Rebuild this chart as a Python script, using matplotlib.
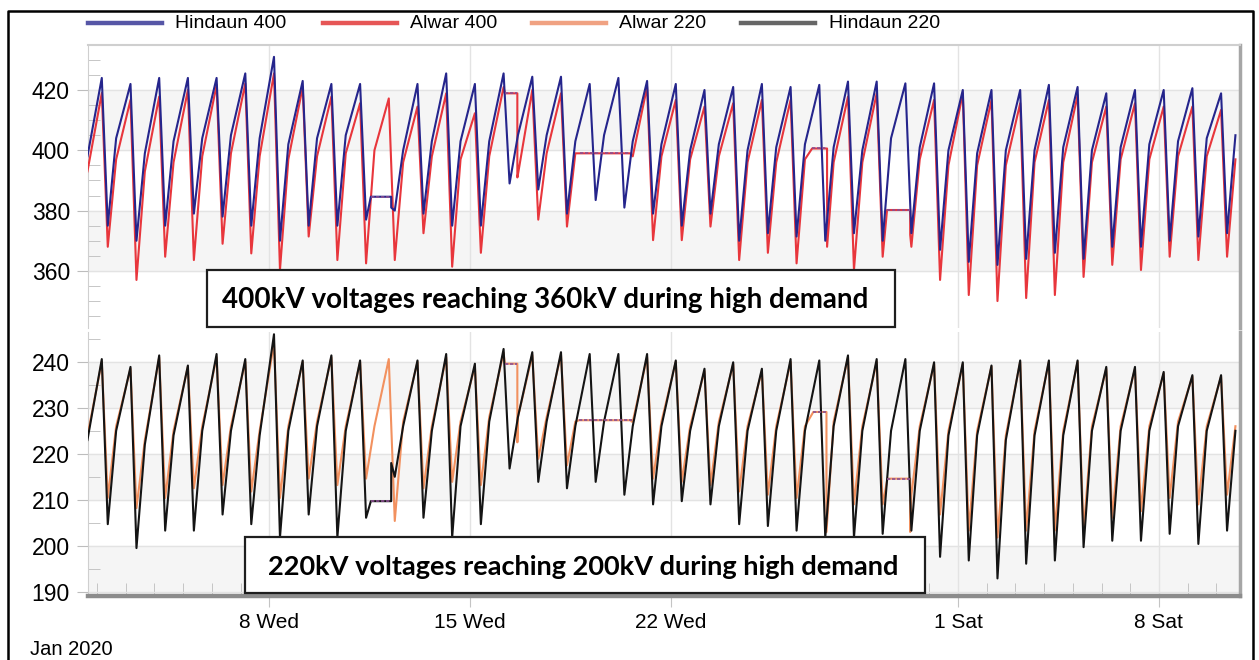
import numpy as np
import pandas as pd
import matplotlib
matplotlib.use("Agg")
import matplotlib.pyplot as plt
import matplotlib.dates as mdates
from matplotlib.lines import Line2D
from matplotlib.patches import Rectangle
from matplotlib.ticker import FixedLocator, MultipleLocator

nan = np.nan

# one value per day (Jan 1 .. Feb 10): morning peak, demand trough, afternoon level
days = pd.date_range("2020-01-01", "2020-02-10", freq="D")
peak_hour, trough_hour, mid_hour = 4, 9, 16

h400_peak = [nan, 424, 422, 424, 424, 424, 425.5, 431, 423, 422,
             422, nan, 422, 425.5, 422, 425.5, 424.4, 424.4, 422, 424,
             423, 422, 420, 421, 422, 421, 421.7, 422.8, 422.8, 422.2, 422.2,
             420, 420, 420, 421.7, 421, 418.9, 420, 420, 420.6, 418.9]
h400_trough = [nan, 375, 370, 375, 379, 378, 375, 370, 375, 375,
               377, 380, 379, 375, 375, 389, 387, 379, 383.5, 381,
               379, 375, 379, 370, 372.5, 371.4, 370, 372.5, 370, 372.5, 367,
               363, 362, 364, 366, 364, 368, 368, 370, 371.4, 372.5]
h400_mid = [398, 404, 399, 403, 404, 405, 404, 402, 404, 405,
            nan, 400, 403, 403, 403, 405, 405, 403, 405, 403,
            402, 400, 402, 400, 401, 402, 401, 400, 404, 401, 400,
            399, 400, 400, 401, 400, 401, 402, 403, 404, 405]

a400_peak = [nan, 419, 416.7, 417.8, 420, 421.7, 422.2, 425.5, 421, 417.8,
             415.6, 417.2, 414.5, 418.9, 412.3, 421, 420, 418.9, nan, nan,
             421.1, 416.7, 414.5, 415.6, 416.7, 416.7, nan, 417.8, 418.9, nan, 416.7,
             418.9, 416.7, 415.6, 416.7, 418.3, 414.5, 415.6, 414.5, 414.5, 413.4]
a400_trough = [nan, 368, 357, 364.7, 363.6, 369, 365.8, 360.3, 371.4, 363.6,
               362.5, 363.6, 372.5, 361.4, 366, nan, 377, 374.7, nan, nan,
               370.2, 370.2, 374.7, 363.6, 366, 362.5, nan, 360.3, 364.7, 368, 357,
               352, 350, 351, 352, 358, 362, 360.3, 364.7, 363.6, 364.7]
a400_mid = [393, 397, 393, 396, 398, 399, 398, 397, 398, 399,
            400, 396, 398, 397, 398, 392, 399, 399, nan, 398,
            398, 397, 398, 396, 396, 397, 396, 396, nan, 397, 395,
            395, 395, 396, 396, 396, 397, 397, 398, 398, 397]

h220_peak = [nan, 240.6, 238.9, 241.4, 239.2, 241.7, 240.6, 246, 240.3, 241.4,
             240.3, nan, 240.3, 241.7, 239.6, 242.8, 242.1, 242.1, 241.7, 241.7,
             241.7, 240.3, 238.5, 239.9, 238.5, 240.6, 240.3, 241.4, 240.6, 240.6, 239.9,
             239.9, 239.2, 240.3, 240.3, 240.3, 238.9, 238.9, 237.8, 237.1, 237.1]
h220_trough = [nan, 204.7, 199.5, 203.3, 203.3, 206.8, 204.7, 201.8, 206.8, 201.8,
               206.1, 215, 206.1, 201.8, 204.7, 216.8, 213.9, 212.5, 213.9, 211.1,
               209, 209.7, 209, 204.7, 204.3, 203.3, 201.8, 201.8, 202.6, 203.3, 197.6,
               196.8, 192.9, 196.1, 196.8, 199.7, 201.1, 201.1, 202.6, 200.4, 203.3]
h220_mid = [223, 225, 222, 224, 225, 225, 224, 225, 226, 225,
            nan, 226, 225, 226, 227, 228, 227, 226, 227, 226,
            226, 225, 226, 225, 225, 225, 226, 225, 225, 225, 224,
            224, 223, 224, 224, 225, 225, 225, 226, 225, 225]

a220_peak = [nan, 240, 238.5, 241, 239, 241, 240, 244, 240, 241,
             240, 240.6, 240, 241, 239, 242, 241.5, 241.5, nan, nan,
             241, 240, 238, 239.5, 238, 240, nan, 241, 240, nan, 239.5,
             239.5, 239, 240, 240, 240, 238.5, 238.5, 237.5, 236.8, 236.8]
a220_trough = [nan, 210.4, 208.2, 210.4, 212.5, 213.2, 211.8, 210.4, 214.6, 213.2,
               214.6, 205.4, 212.5, 213.9, 213.2, nan, 218.9, 217.5, nan, nan,
               214.6, 213.9, 213.2, 211.8, 211.1, 210.4, nan, 209, 209, 211, 206.8,
               203.3, 201.8, 203.3, 203.3, 203.3, 206.1, 207.5, 210.4, 209, 211.1]
a220_mid = [224, 226, 223, 225, 226, 226, 225, 226, 227, 226,
            226, 227, 226, 227, 228, 228, 228, 227, nan, 227,
            227, 226, 227, 226, 226, 226, 227, 226, nan, 226, 225,
            225, 224, 225, 225, 226, 226, 226, 227, 226, 226]

# missing data: held flat (start, end, held value, value when data comes back)
h400_gaps = [("2020-01-11 13:00", "2020-01-12 06:00", 384.6, 381)]
a400_gaps = [("2020-01-16 05:00", "2020-01-16 15:30", 418.9, 391),
             ("2020-01-18 20:00", "2020-01-20 14:00", 399, 399),
             ("2020-01-26 22:00", "2020-01-27 10:30", 400.6, 368),
             ("2020-01-29 12:40", "2020-01-30 08:00", 380.2, 372)]
h220_gaps = [("2020-01-11 13:00", "2020-01-12 06:00", 209.7, 218)]
a220_gaps = [("2020-01-16 05:00", "2020-01-16 15:30", 239.6, 222.5),
             ("2020-01-18 19:00", "2020-01-20 15:00", 227.3, 227),
             ("2020-01-26 23:00", "2020-01-27 10:00", 229.1, 203),
             ("2020-01-29 13:00", "2020-01-30 08:00", 214.6, 203)]

major_dates = pd.to_datetime(["2020-01-08", "2020-01-15", "2020-01-22", "2020-02-01", "2020-02-08"])

c_h400, c_a400, c_a220, c_h220 = "#25258c", "#e8363c", "#f2915f", "#141414"
c_gap = "#8a4f92"


def build(peak, trough, mid, gaps):
    t, v = [], []
    for d, p, tr, m in zip(days, peak, trough, mid):
        t += [d + pd.Timedelta(hours=peak_hour), d + pd.Timedelta(hours=trough_hour),
              d + pd.Timedelta(hours=mid_hour)]
        v += [p, tr, m]
    s = pd.Series(v, index=t)
    for start, end, flat, resume in gaps:
        start, end = pd.Timestamp(start), pd.Timestamp(end)
        s = s[(s.index < start) | (s.index > end)]
        s = pd.concat([s, pd.Series([flat, flat, resume],
                                    index=[start, end, end + pd.Timedelta(minutes=1)])])
    return s.sort_index().dropna()


W, H = 1259, 660
fig = plt.figure(figsize=(W / 100, H / 100), dpi=100)
ax1 = fig.add_axes([88 / W, 1 - 328 / H, 1152 / W, 283 / H])
ax2 = fig.add_axes([88 / W, 64 / H, 1152 / W, 264 / H], sharex=ax1)

# top: 400 kV
for name, pk, tr, md, gp, col in [("Alwar 400", a400_peak, a400_trough, a400_mid, a400_gaps, c_a400),
                                   ("Hindaun 400", h400_peak, h400_trough, h400_mid, h400_gaps, c_h400)]:
    s = build(pk, tr, md, gp)
    ax1.plot(s.index, s.values, color=col, lw=1.5, zorder=3)
    for start, end, flat, resume in gp:
        ax1.plot(pd.to_datetime([start, end]), [flat, flat], color=c_gap, lw=1.2, ls=(0, (2, 1)), zorder=4)

# bottom: 220 kV
for name, pk, tr, md, gp, col in [("Alwar 220", a220_peak, a220_trough, a220_mid, a220_gaps, c_a220),
                                   ("Hindaun 220", h220_peak, h220_trough, h220_mid, h220_gaps, c_h220)]:
    s = build(pk, tr, md, gp)
    ax2.plot(s.index, s.values, color=col, lw=1.5, zorder=3)
    for start, end, flat, resume in gp:
        ax2.plot(pd.to_datetime([start, end]), [flat, flat], color=c_gap, lw=1.2, ls=(0, (2, 1)), zorder=4)

ax1.set_ylim(341.06, 434.93)
ax2.set_ylim(189.08, 246.49)
ax1.set_xlim(pd.Timestamp("2020-01-01 16:28"), pd.Timestamp("2020-02-10 19:49"))

# alternating bands
for lo in (360, 400):
    ax1.axhspan(lo, lo + 20, color="#f5f5f5", zorder=0)
for lo in (190, 210, 230):
    ax2.axhspan(lo, lo + 10, color="#f5f5f5", zorder=0)

ax1.set_yticks([360, 380, 400, 420])
ax2.set_yticks([190, 200, 210, 220, 230, 240])
for ax in (ax1, ax2):
    ax.yaxis.set_minor_locator(MultipleLocator(5))
    ax.tick_params(axis="y", which="major", direction="out", length=8, color="#bdbdbd",
                   labelsize=16.5, pad=5)
    ax.tick_params(axis="y", which="minor", direction="in", length=8.5, color="#bdbdbd")
    ax.grid(True, which="major", color="#e3e3e3", lw=1, zorder=1)
    ax.set_axisbelow(True)
    for lab in ax.get_yticklabels():
        lab.set_family("Liberation Sans")
    ax.spines["left"].set_color("#cfcfcf")
    ax.spines["right"].set_color("#a6a6a6")
    ax.spines["right"].set_linewidth(2.5)

ax1.spines["top"].set_color("#cfcfcf")
ax1.spines["top"].set_linewidth(1.5)
ax1.spines["bottom"].set_visible(False)
ax2.spines["top"].set_visible(False)
ax2.spines["bottom"].set_color("#8c8c8c")
ax2.spines["bottom"].set_linewidth(3.2)

ax2.xaxis.set_major_locator(FixedLocator(mdates.date2num(major_dates)))
ax2.xaxis.set_minor_locator(FixedLocator(mdates.date2num(days[1:])))
ax2.xaxis.set_major_formatter(mdates.DateFormatter("%-d %a"))
ax2.tick_params(axis="x", which="major", direction="out", length=8, color="#c4c4c4",
                labelsize=15, pad=4)
ax2.tick_params(axis="x", which="minor", direction="in", length=9.5, color="#bdbdbd")
for lab in ax2.get_xticklabels():
    lab.set_family("Liberation Sans")
ax1.tick_params(axis="x", which="both", bottom=False, labelbottom=False)

fig.text(30 / W, 1 - 655 / H, "Jan 2020", fontsize=14.5, family="Liberation Sans", va="baseline")

# legend along the top
legend_items = [("Hindaun 400", "#5656a6", 88, 175), ("Alwar 400", "#e65656", 323, 410),
                ("Alwar 220", "#f0a282", 532, 619), ("Hindaun 220", "#666666", 741, 829)]
for label, col, x0, xt in legend_items:
    fig.add_artist(Line2D([x0 / W, (x0 + 74) / W], [1 - 23 / H] * 2, color=col, lw=3.2))
    fig.text(xt / W, 1 - 23.5 / H, label, fontsize=14, family="Liberation Sans", va="center")

# annotation boxes
boxes = [(207, 270, 895, 327, 222, 308, 20.0, "400kV voltages reaching 360kV during high demand"),
         (245, 537, 925, 593, 268, 575, 19.5, "220kV voltages reaching 200kV during high demand")]
for x0, y0, x1, y1, tx, ty, fs, txt in boxes:
    fig.add_artist(Rectangle((x0 / W, 1 - y1 / H), (x1 - x0) / W, (y1 - y0) / H,
                             transform=fig.transFigure, facecolor="white",
                             edgecolor="#1e1e1e", lw=1.6, zorder=5))
    fig.text(tx / W, 1 - ty / H, txt, fontsize=fs, fontweight="bold", family="Lato",
             va="baseline", ha="left", zorder=6)

# outer frame
fig.add_artist(Line2D([8 / W, 8 / W, 1253 / W, 1253 / W], [0, 1 - 11 / H, 1 - 11 / H, 0],
                      color="black", lw=1.8))

fig.savefig("out.png", dpi=100)
